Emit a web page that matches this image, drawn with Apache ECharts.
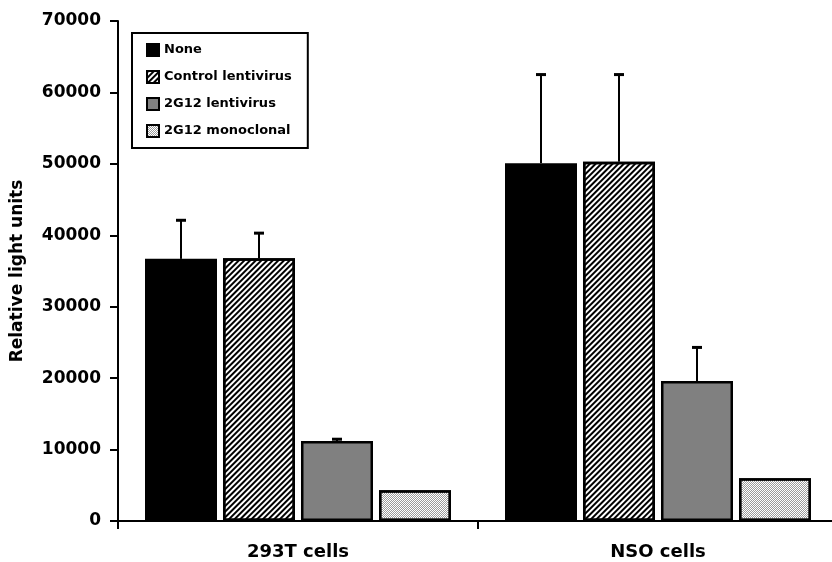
<!DOCTYPE html>
<html>
<head>
<meta charset="utf-8">
<script src="https://cdn.jsdelivr.net/npm/echarts@6/dist/echarts.min.js"></script>
<style>
    html, body { margin: 0; padding: 0; background: #fff; }
    #chart { width: 832px; height: 562px; }
</style>
</head>
<body>
<div id="chart"></div>
<script>
// data
const categories = ['293T cells', 'NSO cells'];
const seriesNames = ['None', 'Control lentivirus', '2G12 lentivirus', '2G12 monoclonal'];
const noneVals = [36700, 50100];
const noneErr = [5400, 12400];
const controlVals = [36800, 50300];
const controlErr = [3500, 12200];
const lentiVals = [11200, 19600];
const lentiErr = [250, 4700];
const monoVals = [4300, 6000];
const monoErr = [0, 0];
const yTicks = [0, 10000, 20000, 30000, 40000, 50000, 60000, 70000];

const allVals = [noneVals, controlVals, lentiVals, monoVals];
const allErr = [noneErr, controlErr, lentiErr, monoErr];

const FONT = 'DejaVu Sans';
const catGap = 0.15;
const barGap = 0.0833;

const styles = [
    { color: '#000000' },
    { color: '#ffffff', decal: { symbol: 'rect', color: '#000', dashArrayX: [1, 0], dashArrayY: [2, 2], rotation: -Math.PI / 4 } },
    { color: '#808080' },
    { color: '#ffffff', decal: { symbol: 'rect', color: '#9a9a9a', symbolSize: 1, dashArrayX: [[1, 1], [0, 1, 1, 0]], dashArrayY: [1, 0] } }
];

const barSeries = seriesNames.map((name, i) => ({
    name: name,
    type: 'bar',
    data: allVals[i],
    barGap: (barGap * 100) + '%',
    barCategoryGap: (catGap * 100) + '%',
    itemStyle: Object.assign({ borderColor: '#000', borderWidth: 2.5 }, styles[i]),
    emphasis: { disabled: true }
}));

// error bars drawn on top of each bar
const errSeries = seriesNames.map((name, i) => ({
    name: name + ' err',
    type: 'custom',
    z: 5,
    silent: true,
    data: allVals[i].map((v, k) => [k, v, v + allErr[i][k]]),
    renderItem: (params, api) => {
        if (api.value(2) <= api.value(1)) return null;
        const band = api.size([1, 0])[0];
        const usable = band * (1 - catGap);
        const bw = usable / (4 + 3 * barGap);
        const base = api.coord([api.value(0), api.value(1)]);
        const top = api.coord([api.value(0), api.value(2)]);
        const x = base[0] - usable / 2 + bw / 2 + i * bw * (1 + barGap);
        return {
            type: 'group',
            children: [
                { type: 'line', shape: { x1: x, y1: base[1], x2: x, y2: top[1] }, style: { stroke: '#000', lineWidth: 2 } },
                { type: 'line', shape: { x1: x - 5, y1: top[1], x2: x + 5, y2: top[1] }, style: { stroke: '#000', lineWidth: 3 } }
            ]
        };
    }
}));

const chart = echarts.init(document.getElementById('chart'));
chart.setOption({
    animation: false,
    backgroundColor: '#fff',
    grid: { left: 118, width: 720, top: 21, bottom: 41, outerBoundsMode: 'none', containLabel: false },
    legend: {
        data: seriesNames,
        orient: 'vertical',
        left: 132,
        top: 33,
        icon: 'rect',
        itemWidth: 12,
        itemHeight: 12,
        itemGap: 13,
        padding: [10, 16, 10, 14],
        borderColor: '#000',
        borderWidth: 2,
        selectedMode: false,
        textStyle: { fontFamily: FONT, fontWeight: 'bold', fontSize: 13, color: '#000' }
    },
    xAxis: {
        type: 'category',
        data: categories,
        axisLine: { lineStyle: { color: '#000', width: 2 } },
        axisTick: { show: true, length: 8, lineStyle: { color: '#000', width: 2 } },
        axisLabel: { margin: 22, fontFamily: FONT, fontWeight: 'bold', fontSize: 18, color: '#000' }
    },
    yAxis: {
        type: 'value',
        min: yTicks[0],
        max: yTicks[yTicks.length - 1],
        interval: yTicks[1] - yTicks[0],
        name: 'Relative light units',
        nameLocation: 'middle',
        nameRotate: 90,
        nameGap: 92,
        nameTextStyle: { fontFamily: FONT, fontWeight: 'bold', fontSize: 17, color: '#000' },
        splitLine: { show: false },
        axisLine: { show: true, lineStyle: { color: '#000', width: 2 } },
        axisTick: { show: true, length: 8, lineStyle: { color: '#000', width: 2 } },
        axisLabel: {
            margin: 17,
            fontFamily: FONT, fontWeight: 'bold', fontSize: 17, color: '#000',
            formatter: v => String(v)
        }
    },
    series: barSeries.concat(errSeries)
});
</script>
</body>
</html>
